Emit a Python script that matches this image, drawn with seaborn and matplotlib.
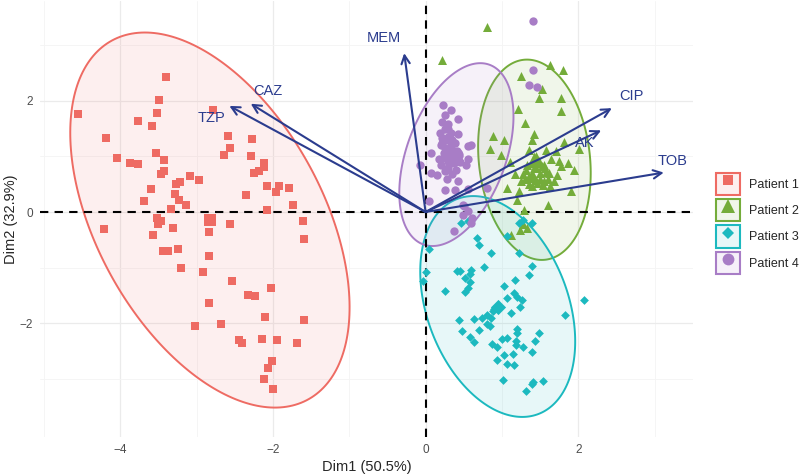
import numpy as np
import pandas as pd
import matplotlib
matplotlib.use("Agg")
import matplotlib.pyplot as plt
import seaborn as sns
from matplotlib.patches import Patch
from matplotlib.lines import Line2D
from matplotlib.legend_handler import HandlerTuple
from matplotlib.colors import to_rgba

# PCA individual coordinates
p1_x = [-3.40, -3.49, -4.55, -2.78, -3.52, -3.76, -3.58, -4.18, -2.59, -2.27, -2.56, -2.64, -2.29,
        -3.53, -3.43, -4.04, -3.87, -3.76, -2.11, -2.11, -2.18, -2.25, -3.42, -3.46, -3.09, -2.97,
        -3.21, -3.27, -2.08, -1.92, -1.79, -1.96, -3.60, -3.28, -2.35, -3.23, -3.69, -3.14, -1.74,
        -3.33, -2.08, -3.52, -3.46, -3.50, -2.56, -1.60, -4.21, -3.31, -2.84, -3.57, -1.59, -3.44,
        -3.38, -3.24, -2.84, -3.20, -2.91, -2.54, -2.02, -2.33, -2.23, -2.83, -2.10, -1.59, -3.02,
        -2.68, -2.45, -2.41, -2.14, -1.95, -1.69, -2.01, -2.07, -2.11, -2.00]
p1_y = [2.43, 2.02, 1.77, 1.83, 1.78, 1.63, 1.54, 1.34, 1.37, 1.31, 1.15, 1.03, 1.00,
        1.06, 0.94, 0.97, 0.89, 0.86, 0.89, 0.81, 0.73, 0.70, 0.73, 0.68, 0.64, 0.58,
        0.54, 0.51, 0.47, 0.47, 0.43, 0.36, 0.41, 0.33, 0.31, 0.22, 0.20, 0.12, 0.13,
        0.06, 0.03, -0.11, -0.16, -0.22, -0.21, -0.17, -0.30, -0.29, -0.36, -0.41, -0.48, -0.70,
        -0.70, -0.67, -0.79, -1.01, -1.08, -1.25, -1.36, -1.50, -1.52, -1.63, -1.89, -1.95, -2.05,
        -2.01, -2.31, -2.36, -2.29, -2.31, -2.35, -2.68, -2.80, -3.01, -3.19]

p2_x = [0.80, 0.22, 1.63, 1.80, 1.25, 1.53, 1.48, 1.78, 1.21, 1.77, 1.30, 1.42, 0.88, 1.03,
        1.39, 1.81, 0.85, 0.99, 1.35, 1.58, 1.71, 2.01, 1.44, 1.49, 1.64, 1.75, 1.86, 1.78,
        1.45, 1.57, 1.62, 1.17, 1.41, 1.72, 1.25, 1.35, 1.46, 1.54, 1.63, 1.07, 1.22, 1.39,
        1.90, 1.60, 1.29, 1.20, 1.24, 1.33, 1.27, 1.12, 1.30, 1.50, 1.68, 1.55, 1.33, 1.95, 1.10,
        1.40, 1.50, 1.32, 1.60, 1.45, 1.38, 1.55, 1.28, 1.42, 1.52, 1.36, 1.47, 1.58]
p2_y = [3.34, 2.73, 2.65, 2.56, 2.45, 2.22, 2.05, 2.06, 1.86, 1.81, 1.61, 1.41, 1.37, 1.30,
        1.30, 1.26, 1.14, 1.02, 1.12, 1.11, 1.09, 1.14, 1.00, 0.91, 0.95, 0.91, 0.89, 0.83,
        0.79, 0.79, 0.71, 0.68, 0.65, 0.67, 0.55, 0.50, 0.52, 0.49, 0.47, 0.43, 0.37, 0.46,
        0.38, 0.13, 0.04, 0.22, -0.32, -0.29, -0.22, -0.41, 0.60, 0.60, 0.55, 0.85, 0.85, 0.75, 0.90,
        0.70, 0.70, 0.75, 0.60, 0.58, 0.62, 0.55, 0.68, 0.80, 0.82, 0.65, 0.88, 0.72]

p3_x = [0.46, 0.55, 0.67, 0.70, 0.86, 0.04, 1.07, 1.23, 1.40, 0.01, -0.03, 0.41, 0.45, 0.60,
        0.58, 0.77, 0.52, 0.58, 0.56, 0.52, 0.26, 1.40, 1.36, 1.17, 1.03, 1.16, 1.07, 1.20,
        1.26, 1.24, 1.12, 2.07, 1.83, 0.93, 0.90, 0.88, 0.80, 0.86, 0.74, 0.44, 0.63, 0.80,
        0.84, 0.70, 0.48, 0.58, 0.63, 0.87, 0.94, 1.00, 1.07, 1.20, 1.20, 1.19, 1.19, 1.27,
        1.43, 1.49, 1.39, 1.03, 0.94, 1.07, 1.16, 1.15, 1.01, 1.39, 1.41, 1.32, 1.54, 1.22, 1.28]
p3_y = [-0.20, -0.16, -0.47, -0.59, -0.73, -0.67, -0.43, -0.74, -0.20, -1.08, -1.24, -1.06, -1.06, -1.05,
        -1.11, -0.99, -1.18, -1.26, -1.36, -1.44, -1.42, -0.97, -1.14, -1.23, -1.33, -1.46, -1.54, -1.53,
        -1.59, -1.71, -1.81, -1.59, -1.86, -1.69, -1.74, -1.78, -1.86, -1.90, -1.90, -1.95, -1.92, -2.01,
        -2.05, -2.13, -2.15, -2.25, -2.34, -2.38, -2.43, -2.29, -2.27, -2.11, -2.17, -2.32, -2.40, -2.43,
        -2.32, -2.17, -2.52, -2.58, -2.67, -2.74, -2.76, -2.55, -3.03, -3.10, -3.06, -3.23, -3.04, -0.20, -0.14]

p4_x = [1.41, 1.41, 1.36, 1.46, 0.23, 0.33, 0.26, 0.42, 0.22, 0.30, 0.26, 0.19, 0.33, 0.22,
        0.28, 0.33, 0.55, 0.60, 0.07, 0.24, 0.33, 0.26, 0.55, 0.31, 0.53, 0.07, 0.15, 0.26,
        0.34, 0.28, 0.43, 0.25, 0.38, 0.55, 0.80, 0.04, -0.07, 0.49, 0.55, 0.61, 0.59, 0.50,
        0.49, 0.37, 0.20, 0.36, 0.18, 0.40, 0.30,
        0.22, 0.30, 0.38, 0.27, 0.35, 0.45, 0.40, 0.20, 0.30, 0.42,
        0.32, 0.25, 0.37, 0.29, 0.34, 0.41]
p4_y = [3.44, 2.56, 2.29, 2.25, 1.92, 1.84, 1.75, 1.67, 1.62, 1.59, 1.49, 1.43, 1.42, 1.33,
        1.29, 1.19, 1.19, 1.21, 1.07, 1.06, 1.03, 0.97, 0.96, 0.86, 0.84, 0.70, 0.67, 0.73,
        0.68, 0.59, 0.56, 0.40, 0.40, 0.41, 0.43, 0.20, 0.85, 0.13, 0.01, -0.11, -0.20, 0.10,
        -0.05, -0.35, 1.20, 1.10, 0.95, 0.75, 1.50,
        1.25, 1.35, 1.25, 1.12, 0.95, 0.90, 1.05, 0.85, 0.80, 1.40,
        1.00, 1.15, 0.88, 0.92, 1.30, 1.10]

patients = ["Patient 1", "Patient 2", "Patient 3", "Patient 4"]
colors = ["#EE6B63", "#74AC3A", "#1CB9BF", "#A87DC6"]
markers = ["s", "^", "D", "o"]
msize = [26, 42, 20, 36]

# variable loadings (arrow tips) and label positions
drugs = ["CAZ", "TZP", "MEM", "CIP", "AK", "TOB"]
load_x = [-2.29, -2.57, -0.28, 2.44, 2.30, 3.12]
load_y = [1.95, 1.91, 2.86, 1.87, 1.47, 0.71]
lab_x = [-2.06, -2.81, -0.55, 2.69, 2.08, 3.23]
lab_y = [2.17, 1.70, 3.13, 2.09, 1.25, 0.91]
arrow_col = "#2B3C8E"

frames = []
for name, xs, ys in [(patients[0], p1_x, p1_y), (patients[1], p2_x, p2_y),
                     (patients[2], p3_x, p3_y), (patients[3], p4_x, p4_y)]:
    frames.append(pd.DataFrame({"Dim1": xs, "Dim2": ys, "group": name}))
df = pd.concat(frames, ignore_index=True)

sns.set_theme(style="white")
plt.rcParams["font.family"] = ["Liberation Sans", "DejaVu Sans"]

fig = plt.figure(figsize=(8, 4.76), dpi=100)
ax = fig.add_axes([0.05, 0.082, 0.816, 0.916])


def ellipse_pts(x, y, r=2.5):
    x = np.asarray(x)
    y = np.asarray(y)
    vals, vecs = np.linalg.eigh(np.cov(x, y))
    t = np.linspace(0, 2 * np.pi, 240)
    circ = np.vstack([np.cos(t), np.sin(t)])
    pts = vecs @ (np.sqrt(vals)[:, None] * circ) * r
    return pts[0] + x.mean(), pts[1] + y.mean()


for i, name in enumerate(patients):
    sub = df[df["group"] == name]
    ex, ey = ellipse_pts(sub["Dim1"], sub["Dim2"])
    ax.fill(ex, ey, facecolor=to_rgba(colors[i], 0.1), edgecolor=colors[i], lw=1.4, zorder=2)

for i, name in enumerate(patients):
    sub = df[df["group"] == name]
    sns.scatterplot(data=sub, x="Dim1", y="Dim2", color=colors[i], marker=markers[i],
                    s=msize[i], linewidth=0, ax=ax, zorder=3, legend=False)
    ax.scatter([sub["Dim1"].mean()], [sub["Dim2"].mean()], color=colors[i], marker=markers[i],
               s=msize[i] * 3, linewidth=0, zorder=3)

ax.axhline(0, color="black", ls=(0, (4, 3)), lw=1.5, zorder=2.5)
ax.axvline(0, color="black", ls=(0, (4, 3)), lw=1.5, zorder=2.5)

for d, lx, ly, tx, ty in zip(drugs, load_x, load_y, lab_x, lab_y):
    ax.annotate("", xy=(lx, ly), xytext=(0, 0),
                arrowprops=dict(arrowstyle="->,head_length=0.5,head_width=0.25",
                                color=arrow_col, lw=1.5, shrinkA=0, shrinkB=0), zorder=4)
    ax.text(tx, ty, d, color=arrow_col, fontsize=10.5, ha="center", va="center", zorder=5)

ax.set_xlim(-5.05, 3.50)
ax.set_ylim(-4.05, 3.80)
ax.set_xticks([-4, -2, 0, 2])
ax.set_yticks([-2, 0, 2])
ax.set_xticks([-5, -3, -1, 1, 3], minor=True)
ax.set_yticks([-3, -1, 1, 3], minor=True)
ax.grid(which="major", color="#EBEBEB", lw=0.9, zorder=0)
ax.grid(which="minor", color="#F4F4F4", lw=0.6, zorder=0)
ax.set_axisbelow(True)
for s in ax.spines.values():
    s.set_visible(False)
ax.tick_params(which="major", length=3, width=1.2, color="black", labelsize=8.5,
               labelcolor="#4D4D4D", pad=2)
ax.tick_params(which="minor", length=0)
ax.set_xlabel("Dim1 (50.5%)", fontsize=10.5, labelpad=3)
ax.set_ylabel("Dim2 (32.9%)", fontsize=10.5, labelpad=1)

handles = []
for i in range(4):
    box = Patch(facecolor=to_rgba(colors[i], 0.1), edgecolor=colors[i], lw=1.5)
    mk = Line2D([], [], ls="", marker=markers[i], color=colors[i],
                markersize=[7.5, 10, 6.5, 8.5][i], markeredgewidth=0)
    handles.append((box, mk))
ax.legend(handles, patients, handler_map={tuple: HandlerTuple(ndivide=1)},
          loc="center left", bbox_to_anchor=(1.022, 0.49), frameon=False,
          handlelength=1.9, handleheight=2.4, labelspacing=0.3, handletextpad=0.75,
          fontsize=9, borderpad=0.2)

fig.savefig("out.png", dpi=100)
